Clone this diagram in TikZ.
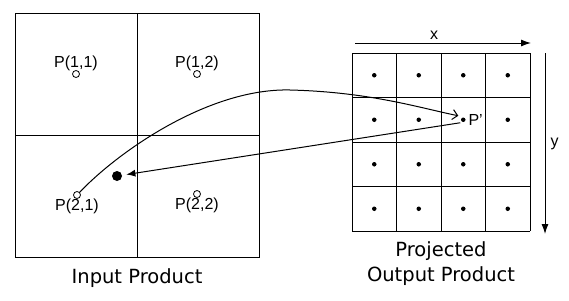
\documentclass[tikz,border=0pt]{standalone}
\usepackage{fontspec}
\setmainfont{Liberation Sans}
\newfontfamily\capfont{DejaVu Sans}
\usetikzlibrary{arrows.meta, positioning}

\begin{document}
\begin{tikzpicture}[x=1pt, y=-1pt,
  opendot/.style={circle, draw, fill=white, inner sep=0pt, minimum size=7pt, line width=0.8pt},
  griddot/.style={circle, fill, inner sep=0pt, minimum size=4.5pt},
  bigdot/.style={circle, fill, inner sep=0pt, minimum size=10pt},
  plabel/.style={font=\fontsize{16}{18}\selectfont, inner sep=0pt},
  caption/.style={font=\capfont\fontsize{19.5}{25}\selectfont, align=center, inner sep=0pt},
  axis/.style={-{Latex[length=10pt, width=7pt]}},
  line width=1pt,
]
  \useasboundingbox (0,0) rectangle (569,300);

  % Input product
  \draw (15,13) rectangle (259,257);
  \draw (137,13) -- (137,257);
  \draw (15,135) -- (259,135);
  \node[opendot] (p11) at (76,74) {};
  \node[plabel, above=-1pt of p11] {P(1,1)};
  \node[opendot] (p12) at (197,74) {};
  \node[plabel, above=-1pt of p12] {P(1,2)};
  \node[opendot] (p21) at (77,195) {};
  \node[plabel, below=0pt of p21] {P(2,1)};
  \node[opendot] (p22) at (197,194) {};
  \node[plabel, below=0pt of p22] {P(2,2)};
  \node[bigdot] (hit) at (117,176) {};
  \node[caption, anchor=base] at (137,283) {Input Product};

  % Projected output grid
  \foreach \i in {0,...,4} {
    \draw ({352+44.5*\i},53) -- ({352+44.5*\i},231);
    \draw (352,{53+44.5*\i}) -- (530,{53+44.5*\i});
  }
  \foreach \r in {0,...,3}
    \foreach \c in {0,...,3}
      \node[griddot] (g\r\c) at ({374.25+44.5*\c},{75.25+44.5*\r}) {};
  \node[plabel, right=2pt of g12] {P'};
  \node[caption, anchor=south] at (441,286) {Projected\\Output Product};

  % Axes
  \coordinate (xs) at (355,43);
  \coordinate (xe) at (531,43);
  \draw[axis] (xs) -- node[plabel, pos=0.45, above=3pt] {x} (xe);
  \coordinate (ys) at (545,53);
  \coordinate (ye) at (545,234);
  \draw[axis] (ys) -- node[plabel, right=5pt] {y} (ye);

  % Projection and back
  \coordinate (peak) at (290,90);
  \draw[-{Straight Barb[length=5pt, width=10pt]}] (p21)
    .. controls (120,150) and (210,88) .. (peak)
    .. controls (370,92) and (420,108) .. ([shift={(-5,-4)}]g12.center);
  \draw[-{Latex[length=9pt, width=7pt]}, shorten >=4pt]
    ([shift={(-3,3)}]g12.center) -- (hit);
\end{tikzpicture}
\end{document}
